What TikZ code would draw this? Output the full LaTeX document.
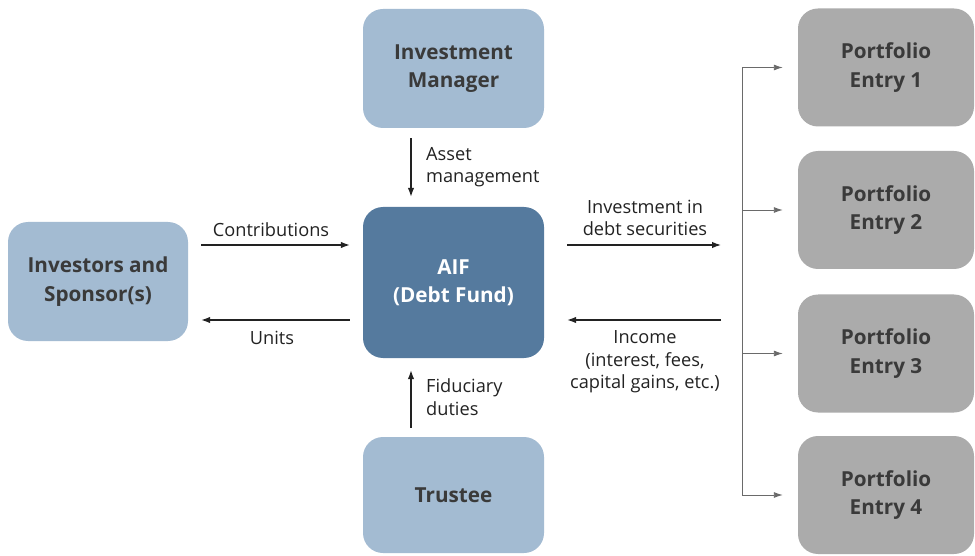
\documentclass[tikz,border=0pt]{standalone}
\usepackage{fontspec}
\setmainfont{Open Sans}
\usetikzlibrary{arrows.meta}
\definecolor{lblue}{HTML}{A3BBD2}
\definecolor{dblue}{HTML}{557A9E}
\definecolor{pgray}{HTML}{ABABAB}
\definecolor{txt}{HTML}{3A3A3A}
\definecolor{lnk}{HTML}{222222}
\definecolor{bus}{HTML}{6A6A6A}
\tikzset{
  boxbase/.style={rounded corners=20pt, align=center, font=\fontsize{20.7}{28.5}\selectfont\bfseries, inner sep=0pt},
  lb/.style={boxbase, fill=lblue, text=txt},
  dk/.style={boxbase, fill=dblue, text=white},
  pg/.style={boxbase, fill=pgray, text=txt, minimum width=176pt, minimum height=118pt},
  arr/.style={draw=lnk, line width=1.2pt, -{Latex[length=9pt,width=6.5pt]}},
  garr/.style={draw=bus, line width=0.9pt, -{Latex[length=9pt,width=6pt]}},
  lbl/.style={font=\fontsize{18.2}{22.5}\selectfont, text=lnk, align=center, inner sep=0pt}
}
\begin{document}
\begin{tikzpicture}[x=1pt,y=-1pt]
\useasboundingbox (0,0) rectangle (975,556);
% boxes
\node[lb, minimum width=180pt, minimum height=119pt] (inv) at (98,281.5) {Investors and\\Sponsor(s)};
\node[dk, minimum width=181pt, minimum height=151pt] (aif) at (453.5,282.5) {AIF\\(Debt Fund)};
\node[lb, minimum width=181pt, minimum height=119pt] (im) at (453.5,68.5) {Investment\\Manager};
\node[lb, minimum width=181pt, minimum height=116pt] (tr) at (453.5,495) {Trustee};
\node[pg] (p1) at (886,67.5) {Portfolio\\Entry 1};
\node[pg] (p2) at (886,210) {Portfolio\\Entry 2};
\node[pg] (p3) at (886,353.5) {Portfolio\\Entry 3};
\node[pg] (p4) at (886,495) {Portfolio\\Entry 4};
% helper coordinates
\coordinate (ytop) at (0,245);
\coordinate (ybot) at (0,320);
\coordinate (xv) at (411,0);
\coordinate (rin) at (721,245);
\coordinate (rout) at (721,320);
\coordinate (bt) at (742,67.5);
\coordinate (bb) at (742,495);
% left arrows
\draw[arr, shorten <=13pt, shorten >=13pt] (inv.east |- ytop) -- (aif.west |- ytop);
\draw[arr, shorten <=13pt, shorten >=13pt] (aif.west |- ybot) -- (inv.east |- ybot);
\node[lbl] (lc) at (271,230) {Contributions};
\node[lbl] (lu) at (272,338) {Units};
% vertical arrows
\draw[arr, shorten <=10pt, shorten >=10pt] (im.south -| xv) -- (aif.north -| xv);
\draw[arr, shorten <=9pt, shorten >=12pt] (tr.north -| xv) -- (aif.south -| xv);
\node[lbl, anchor=west, align=left] (la) at (426,167) {Asset\\management};
\node[lbl, anchor=west, align=left] (lf) at (426,397) {Fiduciary\\duties};
% right arrows
\draw[arr, shorten <=23pt] (aif.east |- ytop) -- (rin);
\draw[arr, shorten >=23pt] (rout) -- (aif.east |- ybot);
\node[lbl] (li) at (645,218) {Investment in\\debt securities};
\node[lbl] (ln) at (645,362) {Income\\(interest, fees,\\capital gains, etc.)};
% bus
\draw[draw=bus, line width=0.9pt] (bt) -- (bb);
\foreach \p in {p1,p2,p3,p4}
  \draw[garr, shorten >=15pt] (\p.west -| bt) -- (\p.west);
\end{tikzpicture}
\end{document}
